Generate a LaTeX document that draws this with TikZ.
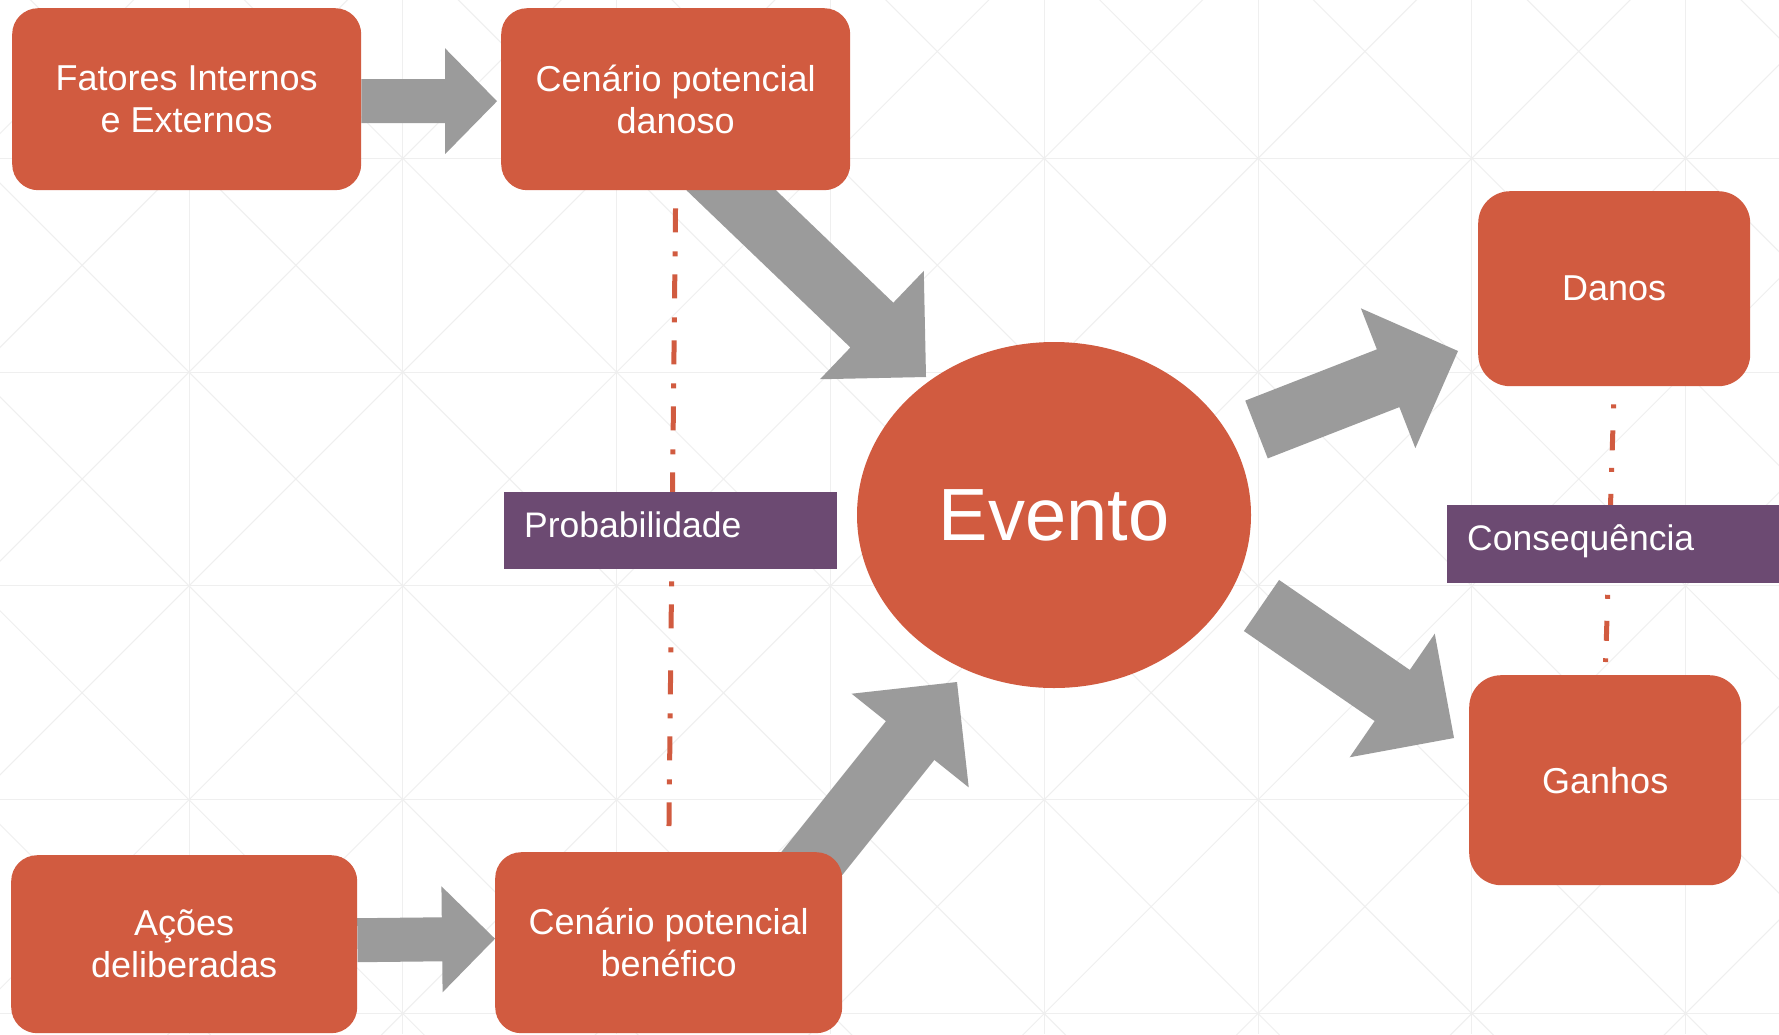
\documentclass[tikz,border=0pt]{standalone}
\usepackage{fontspec}
\setmainfont{Liberation Sans}
\usetikzlibrary{calc,backgrounds,shapes.geometric}
\definecolor{boxred}{HTML}{D15B40}
\definecolor{labpurple}{HTML}{6C4A72}
\definecolor{arrgray}{HTML}{9B9B9B}
\definecolor{gridgray}{HTML}{EFEFEF}
\pgfdeclarelayer{arrowlayer}
\pgfsetlayers{background,arrowlayer,main}
% #1 start, #2 tip, #3 shaft half width, #4 head half width, #5 head length
\newcommand\myblockarrow[5]{%
  \coordinate (hb) at ($(#2)!#5!(#1)$);
  \fill[arrgray] ($(#1)!#3!90:(#2)$) -- ($(hb)!#3!-90:(#1)$) -- ($(hb)!#4!-90:(#1)$)
    -- (#2) -- ($(hb)!#4!90:(#1)$) -- ($(hb)!#3!90:(#1)$) -- ($(#1)!#3!-90:(#2)$) -- cycle;}
\begin{document}
\begin{tikzpicture}[x=1pt,y=-1pt,
  gridline/.style={draw=gridgray, line width=1pt},
  box/.style={fill=boxred, text=white, align=center, inner sep=0pt,
    font=\fontsize{36}{42}\selectfont, anchor=north west},
  lab/.style={fill=labpurple, text=white, align=left, inner xsep=20pt, inner ysep=0pt,
    font=\fontsize{35.5}{42}\selectfont, anchor=north west, text height=25pt, text depth=12pt},
  dashdot/.style={draw=boxred, line width=5pt, dash pattern=on 24pt off 19pt on 5pt off 18pt},
  dashdotb/.style={draw=boxred, line width=5pt, dash pattern=on 4pt off 22pt on 20pt off 17.5pt}]
\useasboundingbox (0,0) rectangle (1779,1034);
\begin{pgfonlayer}{background}
  \fill[white] (0,0) rectangle (1779,1034);
  \begin{scope}
    \clip (0,0) rectangle (1779,1034);
    \foreach \k in {0,...,8} {\draw[gridline] ({-24.8+213.8*\k},0) -- ({-24.8+213.8*\k},1034);}
    \foreach \k in {0,...,5} {\draw[gridline] (0,{-55.5+213.8*\k}) -- (1779,{-55.5+213.8*\k});}
    \foreach \k in {-6,...,9} {\draw[gridline] ({30.7+213.8*\k-50},-50) -- ({30.7+213.8*\k+1100},1100);}
    \foreach \k in {0,...,14} {\draw[gridline] ({-80.3+213.8*\k+50},-50) -- ({-80.3+213.8*\k-1100},1100);}
  \end{scope}
\end{pgfonlayer}

% boxes
\node[box, rounded corners=26pt, minimum width=349pt, minimum height=182pt] (fat) at (12,8) {Fatores Internos\\e Externos};
\node[box, rounded corners=26pt, minimum width=349pt, minimum height=182pt] (dan) at (501,8) {Cenário potencial\\danoso};
\node[box, rounded corners=26pt, minimum width=346pt, minimum height=178pt] (ac) at (11,855) {Ações\\deliberadas};
\node[box, rounded corners=26pt, minimum width=347pt, minimum height=181pt] (ben) at (495,852) {Cenário potencial\\benéfico};
\node[box, rounded corners=32pt, minimum width=272pt, minimum height=195pt] (dmg) at (1478,191) {Danos};
\node[box, rounded corners=32pt, minimum width=272pt, minimum height=210pt] (gan) at (1469,675) {Ganhos};
\node[ellipse, fill=boxred, text=white, inner sep=0pt, minimum width=394pt, minimum height=346pt,
  font=\fontsize{74}{80}\selectfont] (ev) at (1054,515) {Evento};

% labels
\node[lab, text width=293pt, minimum height=77pt] (prob) at (504,492) {Probabilidade};
\node[lab, text width=292pt, minimum height=78pt] (cons) at (1447,505) {Consequência};

% free ends of the diagonal arrows
\coordinate (a3s) at (797,882);
\coordinate (a3t) at (957,682);
\coordinate (a4s) at (708,168);
\coordinate (a4t) at (926,377);
\coordinate (a5s) at (1256.5,429.5);
\coordinate (a5t) at (1458,351);
\coordinate (a6s) at (1261.5,605.5);
\coordinate (a6t) at (1454,738);

\begin{pgfonlayer}{arrowlayer}
  \myblockarrow{$(fat.east)+(0,2)$}{$(dan.west)+(-4,2)$}{22pt}{53pt}{52pt}
  \myblockarrow{$(ac.east)+(0,-4)$}{$(ben.west)+(0,-4)$}{22pt}{53pt}{53pt}
  \myblockarrow{a4s}{a4t}{31pt}{75pt}{75pt}
  \myblockarrow{a3s}{a3t}{31pt}{75pt}{75pt}
  \myblockarrow{a5s}{a5t}{31pt}{75pt}{75pt}
  \myblockarrow{a6s}{a6t}{31pt}{75pt}{75pt}
  \draw[dashdot, shorten <=18pt, shorten >=26pt] (dan.south) -- (ben.north);
  \draw[dashdotb, shorten <=18pt, shorten >=13pt] (dmg.south) -- (gan.north);
\end{pgfonlayer}
\end{tikzpicture}
\end{document}
